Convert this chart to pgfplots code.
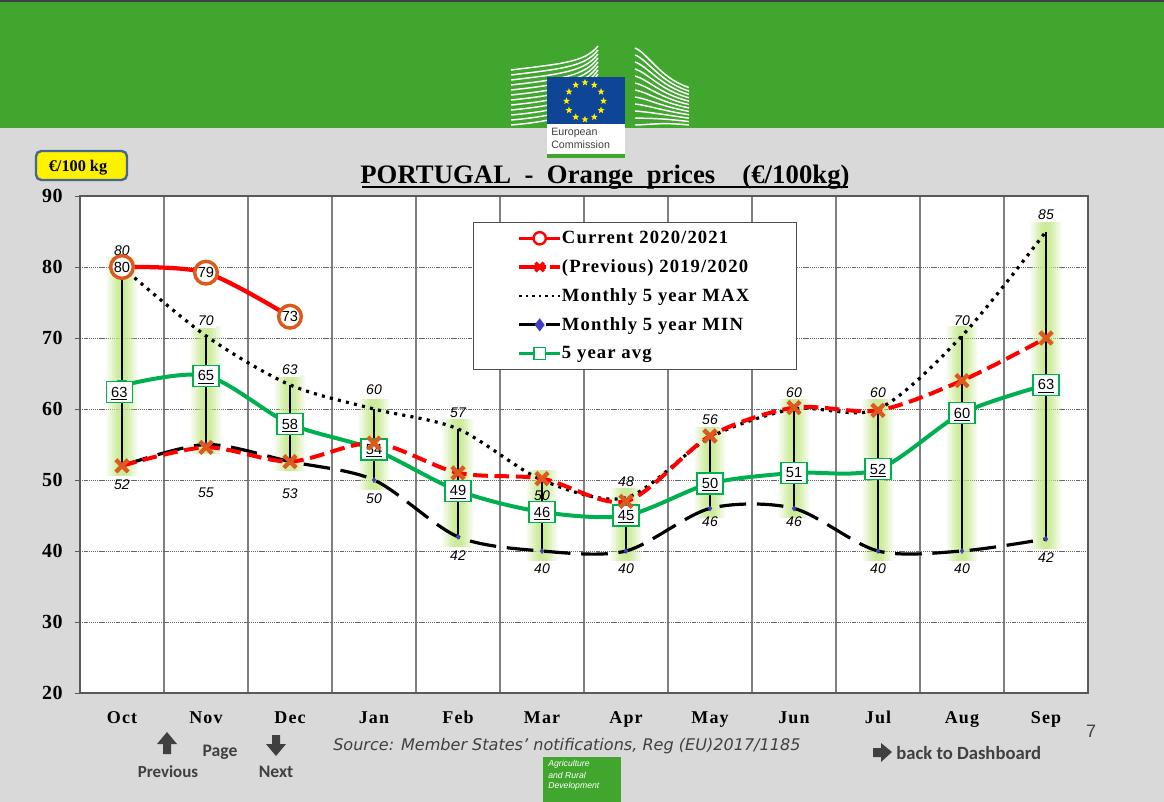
\documentclass[border=0pt]{standalone}
\usepackage{fontspec}
\usepackage{pgfplots}
\usepackage{pgfplotstable}
\pgfplotsset{compat=1.18}
\usetikzlibrary{shapes.geometric}
\setmainfont{Liberation Serif}
\setsansfont{Liberation Sans}
\newfontfamily\legfont[LetterSpace=6]{Liberation Serif}
\newfontfamily\srcfont{DejaVu Sans}
\newfontfamily\carl{Carlito}
\definecolor{hdr}{HTML}{41A62E}
\definecolor{bg}{HTML}{D9D9D9}
\definecolor{euob}{HTML}{0F4595}
\definecolor{avg}{HTML}{00B050}
\definecolor{org}{HTML}{DD5A1E}
\definecolor{band}{HTML}{C6E98C}
\definecolor{txt}{HTML}{404040}
\newcommand{\fs}[1]{\fontsize{#1}{#1}\selectfont}
\pgfplotstableread{
x mx mn dmx dmn lmx lmn fo
0 80.0 52.0 6 9 80 52 0
1 70.3 55.0 5 31.5 70 55 1
2 63.4 52.6 5 19 63 53 1
3 60.0 50.0 8 9 60 50 0
4 57.2 42.0 6 9 57 42 0
5 50.0 40.0 -18 8.5 50 40 0
6 47.5 40.0 6 8.5 48 40 0
7 56.0 46.0 7 5 56 46 0
8 60.0 46.0 6 5 60 46 0
9 60.0 40.0 6 8.5 60 40 0
10 70.3 40.0 5 8.5 70 40 0
11 85.0 41.7 6 9 85 42 0
}\bounds
\pgfplotstableread{
x y
0 52.0
1 54.6
2 52.6
3 55.2
4 51.0
5 50.2
6 47.0
7 56.2
8 60.2
9 59.8
10 64.0
11 70.0
}\prevtab
\pgfplotstableread{
x y lab bx by
0 63.3 63 -2 -5
1 64.7 65 0 0
2 57.9 58 0 0
3 54.3 54 0 0
4 48.5 49 0 0
5 45.5 46 0 0
6 45.0 45 0 0
7 49.5 50 0 0
8 51.0 51 0 0
9 51.5 52 0 0
10 59.4 60 0 0
11 63.4 63 0 0
}\avgtab
\pgfplotstableread{
x y lab
0 80.0 80
1 79.2 79
2 73.0 73
}\curtab
\pgfplotsset{
 legend image code/.code={
  \path (-33pt,0pt);
  \draw[mark repeat=2,mark phase=2,#1] plot coordinates {(0pt,0pt)(15.4pt,0pt)(30.8pt,0pt)};
 }
}
\newcommand{\band}[2]{\addplot[forget plot,draw=none,mark=none,
  error bars/.cd,y dir=both,y explicit,error mark=none,
  error bar style={draw=band,line width=#1,opacity=#2,solid}]
  table[x=x,y=mx,y error plus expr=1.4,y error minus expr=\thisrow{mx}-\thisrow{mn}+1.4]{\bounds};}
\newcommand{\lt}[1]{\makebox[176pt][l]{\legfont\bfseries\fs{14}#1}}
\begin{document}
\begin{tikzpicture}
\begin{scope}[x=.75pt,y=-.75pt]
\path[use as bounding box] (0,0) rectangle (1164,802);
\fill[bg] (0,0) rectangle (1164,802);
\fill[hdr] (0,0) rectangle (1164,128);
\fill[txt] (0,0) rectangle (1164,2);
\foreach \i in {0,...,11}{
  \draw[white,line width=1.1pt] (511,{125-\i*5}) .. controls (560,{121-\i*5.2}) and (585,{112-\i*4.5}) .. (598,{90-\i*4});
  \draw[white,line width=1.1pt] (635,{125-\i*7}) .. controls (648,{125-\i*6.5}) and (660,{122-\i*4}) .. (689,{125-\i*3.4});
}
\fill[white] (547,77) rectangle (625,158);
\fill[euob] (547,77) rectangle (625,124.5);
\fill[hdr] (547,154) rectangle (625,158);
\foreach \a in {0,30,...,330}{
  \node[star,star points=5,star point ratio=2.4,fill=yellow,inner sep=0pt,minimum size=5.5pt] at ({585+18.5*cos(\a)},{101+18.5*sin(\a)}) {};
}
\node[anchor=west,inner sep=0,text=txt] at (551,133) {\sffamily\fs{8}European};
\node[anchor=west,inner sep=0,text=txt] at (551,145) {\sffamily\fs{8}Commission};
\definecolor{ybd}{HTML}{44678F}
\draw[draw=ybd,fill=yellow,line width=1.8pt,rounded corners=4pt] (36,151) rectangle (127,180);
\node[inner sep=0] at (78,168) {\bfseries\fs{12.2}€/100 kg};
\node[inner sep=0] at (605,177) {\bfseries\fs{20}\addfontfeature{LetterSpace=.3}PORTUGAL\ \ -\ \ Orange\ \ prices\ \ \ \ (€/100kg)};
\draw[line width=1.6pt] (362,187) -- (848,187);
\end{scope}
\begin{axis}[
  at={(60pt,-519.75pt)},anchor=south west,
  scale only axis,width=756pt,height=372.75pt,
  xmin=-0.5,xmax=11.5,ymin=20,ymax=90,
  xtick={0,...,11},
  xticklabels={Oct,Nov,Dec,Jan,Feb,Mar,Apr,May,Jun,Jul,Aug,Sep},
  minor xtick={-0.5,0.5,...,11.5},
  ytick={20,30,...,90},
  tick align=outside,
  major tick length=4pt,minor tick length=4pt,
  xtick style={draw=none},
  ytick pos=left,xtick pos=bottom,
  minor tick style={gray!70!black,line width=.7pt},
  ytick style={gray!70!black,line width=.7pt},
  xminorgrids=true,ymajorgrids=true,
  minor grid style={gray,line width=.9pt},
  major grid style={black!60,line width=.4pt,dash pattern=on 1pt off .6pt},
  axis line style={black!65,line width=1pt},
  axis background/.style={fill=white},
  /pgf/number format/assume math mode=true,
  yticklabel style={font=\bfseries\fs{15}\addfontfeature{LetterSpace=3},xshift=-5.5pt},
  xticklabel style={font=\legfont\bfseries\fs{13.5},yshift=-6pt,text height=9pt,text depth=3pt},
  clip=false,
  legend style={at={(0.3899,0.9477)},anchor=north west,draw=black!70,line width=.6pt,fill=white,
    inner xsep=0pt,inner ysep=6.5pt,row sep=10.5pt,nodes={inner sep=0pt},/tikz/every even column/.style={column sep=2pt}},
  legend cell align=left,
]
\band{24pt}{.10}
\band{21pt}{.14}
\band{18pt}{.18}
\band{15pt}{.22}
\band{12pt}{.28}
\band{9pt}{.34}
\band{6pt}{.4}
\addplot[forget plot,draw=none,mark=none,
  error bars/.cd,y dir=minus,y explicit,error mark=none,
  error bar style={draw=black,line width=.8pt,solid}]
  table[x=x,y=mx,y error minus expr=\thisrow{mx}-\thisrow{mn}]{\bounds};
% MIN
\addplot[forget plot,smooth,black,line width=2.4pt,dash pattern=on 20pt off 8pt,
  mark=diamond*,mark size=2pt,mark options={solid,fill=blue!50!gray,draw=blue!50!gray,line width=.2pt},
  point meta=explicit symbolic,
  visualization depends on={\thisrow{dmn} \as \dy},
  nodes near coords,
  every node near coord/.append style={font=\sffamily\itshape\fs{10.5},anchor=north,yshift=-\dy pt,inner sep=1pt,text=black}]
  table[x=x,y=mn,meta=lmn]{\bounds};
% MAX
\addplot[forget plot,smooth,black,line width=2.4pt,dash pattern=on 2.3pt off 3.9pt,
  point meta=explicit symbolic,
  visualization depends on={\thisrow{dmx} \as \dy},
  visualization depends on={\thisrow{fo} \as \fo},
  nodes near coords,
  every node near coord/.append style={font=\sffamily\itshape\fs{10.5},anchor=south,yshift=\dy pt,inner sep=1.5pt,
     fill=white,fill opacity=\fo,text opacity=1,text=black}]
  table[x=x,y=mx,meta=lmx]{\bounds};
% AVG
\addplot[forget plot,smooth,avg,line width=3pt,
  mark=square*,mark size=3.5pt,mark options={solid,fill=white,draw=avg,line width=.7pt},
  point meta=explicit symbolic,
  visualization depends on={\thisrow{bx} \as \bx},
  visualization depends on={\thisrow{by} \as \by},
  nodes near coords={\underline{\pgfplotspointmeta}},
  nodes near coords align={center},
  every node near coord/.append style={font=\sffamily\fs{11},anchor=center,xshift=\bx pt,yshift=\by pt,draw=avg,fill=white,text=black,
     line width=.9pt,minimum width=19.5pt,minimum height=15.75pt,inner sep=0pt,text depth=0pt}]
  table[x=x,y=y,meta=lab]{\avgtab};
% PREV
\addplot[forget plot,smooth,red,line width=3pt,dash pattern=on 11pt off 5pt,
  mark=x,mark size=6.5pt,mark options={solid,draw=org,line width=3.2pt}]
  table[x=x,y=y]{\prevtab};
% CUR
\addplot[forget plot,smooth,red,line width=3.2pt,
  mark=*,mark size=8.5pt,mark options={solid,draw=org,fill=white,line width=2.6pt},
  point meta=explicit symbolic,
  nodes near coords,nodes near coords align={center},
  every node near coord/.append style={font=\sffamily\fs{11},anchor=center,inner sep=0pt,text=black}]
  table[x=x,y=y,meta=lab]{\curtab};
\addlegendimage{red,line width=2.6pt,mark=*,mark size=4.6pt,mark options={solid,fill=white,draw=red,line width=1.8pt}}
\addlegendentry{\lt{Current 2020/2021}}
\addlegendimage{red,line width=2.6pt,dash pattern=on 14pt off 3pt on 3pt off 3pt,mark=x,mark size=4.5pt,mark options={solid,draw=red,line width=2.6pt}}
\addlegendentry{\lt{(Previous) 2019/2020}}
\addlegendimage{black,line width=2pt,dash pattern=on 2pt off 2.9pt}
\addlegendentry{\lt{Monthly 5 year MAX}}
\addlegendimage{black,line width=2.4pt,dash pattern=on 13pt off 7pt,mark=diamond*,mark size=3pt,mark options={solid,fill=blue!50!gray,draw=blue!50!gray}}
\addlegendentry{\lt{Monthly 5 year MIN}}
\addlegendimage{avg,line width=2.6pt,mark=square*,mark size=4.4pt,mark options={solid,fill=white,draw=avg,line width=1.2pt}}
\addlegendentry{\lt{5 year avg}}
\end{axis}
\begin{scope}[x=.75pt,y=-.75pt]
\definecolor{arr}{HTML}{404040}
\fill[arr] (167,732) -- (177,744) -- (171,744) -- (171,754) -- (163,754) -- (163,744) -- (157,744) -- cycle;
\fill[arr] (276,756) -- (286,744) -- (280,744) -- (280,735) -- (272,735) -- (272,744) -- (266,744) -- cycle;
\fill[arr] (892,752) -- (881,743) -- (881,748) -- (873,748) -- (873,757) -- (881,757) -- (881,762) -- cycle;
\node[inner sep=0,text=txt] at (220,752) {\carl\bfseries\fs{13.2}Page};
\node[inner sep=0,text=txt] at (168,772) {\carl\bfseries\fs{12.7}Previous};
\node[inner sep=0,text=txt] at (276,772) {\carl\bfseries\fs{13.2}Next};
\node[anchor=west,inner sep=0,text=txt] at (896,753) {\carl\bfseries\fs{14}back to Dashboard};
\node[anchor=west,inner sep=0,text=txt] at (333,746) {\srcfont\itshape\fs{12.05}Source: Member States’ notifications, Reg (EU)2017/1185};
\node[inner sep=0,text=txt] at (1091,731) {\sffamily\fs{13.5}7};
\fill[hdr] (543,757) rectangle (621,802);
\node[anchor=west,inner sep=0,text=white] at (548,764) {\sffamily\itshape\fs{6.5}Agriculture};
\node[anchor=west,inner sep=0,text=white] at (548,775) {\sffamily\itshape\fs{6.5}and Rural};
\node[anchor=west,inner sep=0,text=white] at (548,786) {\sffamily\itshape\fs{6.5}Development};
\end{scope}
\end{tikzpicture}
\end{document}
